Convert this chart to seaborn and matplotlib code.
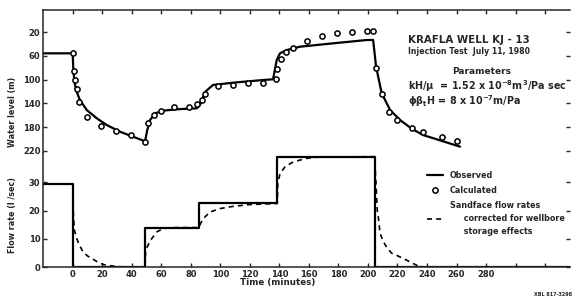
import matplotlib
matplotlib.use("Agg")
import matplotlib.pyplot as plt
import pandas as pd
import seaborn as sns
from matplotlib.lines import Line2D

sns.set_style("ticks")
plt.rcParams['font.family'] = ['DejaVu Sans']
plt.rcParams['font.weight'] = 'bold'
plt.rcParams['mathtext.default'] = 'bf'

# water level, observed (m)
obs_time = [-20, 0, 0.4, 1.1, 2.2, 4.9, 9.5, 16.3, 23, 32, 40.9, 49,
            50.5, 52.4, 55.8, 61.2, 70.5, 84, 86.2, 88.3, 90.3, 95, 108.6,
            128.9, 135.7, 138.2, 140.4, 145, 154, 176.4, 199.2, 203.5,
            205.5, 209.3, 215, 221.7, 229.7, 237.3, 262.4]
obs_level = [55.5, 55.5, 83.7, 100.6, 117.5, 134.4, 151.3, 165.3, 176.6, 187.9, 196.4, 204.1,
             185, 168.1, 156.8, 152.4, 150, 148.4, 142.8, 129.3, 119.2, 109, 105.1,
             100.6, 99.4, 66.8, 55.5, 49.9, 44.3, 38.6, 33, 33,
             78.1, 123, 151.3, 168.1, 183, 193.5, 213.2]

# water level, calculated
calc_time = [0, 0.9, 1.35, 2.7, 4.3, 9.9, 19, 29.1, 39.3, 49, 51.2, 55.1, 59.6,
             68.6, 79, 84, 87.4, 89.6, 98.6, 108.8, 119, 128.7, 137.7, 138.6,
             140.9, 144.5, 149, 158.5, 168.9, 178.9, 189.2, 199.2, 203.7,
             205.5, 209.3, 214.5, 219.9, 229.7, 237.5, 250, 260.2]
calc_level = [55.5, 85.4, 100.6, 116.3, 137.2, 162.6, 178.3, 186.7, 193.5, 204.8, 173.7, 159.7, 152.4,
              146.7, 145.7, 141.1, 134.4, 124.2, 110.7, 108.5, 106.1, 105.1, 98.9, 82,
              64.6, 52.8, 46, 34.2, 25.7, 21.7, 19.5, 17.3, 17.3,
              80.8, 124.2, 154.1, 168.1, 182.2, 187.9, 196.4, 203.1]

# flow rate, observed (l/sec), step changes
step_time = [-20, 0, 49, 85.6, 138.6, 204.5, 337]
step_rate = [29.5, 0, 14, 22.5, 39, 0, 0]

# sandface flow rate corrected for wellbore storage
sand_time = [0, 0.5, 1.2, 2.5, 4, 7, 10, 13, 17, 21, 26, 32, 40, 49,
             49.4, 51, 53.5, 57, 61.5, 70, 85.6,
             86.6, 88.5, 93, 99.8, 108.8, 120, 138.6,
             138.9, 140.4, 143.8, 149.5, 158.5, 167.5, 204.5,
             205.5, 206.3, 207, 208.2, 210, 212.7, 216, 219.5, 226.3, 233, 237.5, 242]
sand_rate = [29.5, 18, 13, 10.5, 8.4, 5.4, 4.0, 3.1, 1.8, 0.95, 0.5, 0.2, 0.05, 0,
             6, 7.8, 10.1, 12.5, 13.7, 14, 14,
             15.5, 17.2, 19.5, 20.7, 21.5, 22.1, 22.5,
             29.5, 33, 35.4, 37.2, 38.4, 38.9, 39,
             29, 20, 17.8, 12, 9.5, 7, 5, 4.2, 2.5, 0.7, 0.1, 0]

level_ticks = [20, 60, 100, 140, 180, 220]
rate_ticks = [0, 10, 20, 30]
time_ticks = list(range(0, 321, 20))
time_labels = [str(t) if t <= 280 else "" for t in time_ticks]

obs = pd.DataFrame({"t": obs_time, "level": obs_level})
calc = pd.DataFrame({"t": calc_time, "level": calc_level})
step = pd.DataFrame({"t": step_time, "q": step_rate})
sand = pd.DataFrame({"t": sand_time, "q": sand_rate})

W, H = 573, 303
fig = plt.figure(figsize=(W / 100, H / 100), dpi=100)
left = 43.2 / W
width = 527 / W
ax1 = fig.add_axes([left, 1 - 153 / H, width, 143 / H])
ax2 = fig.add_axes([left, 1 - 267.3 / H, width, 114.3 / H])

sns.lineplot(data=obs, x="t", y="level", ax=ax1, color="black", lw=1.6,
             sort=False, estimator=None)
sns.scatterplot(data=calc, x="t", y="level", ax=ax1, marker="o", s=14,
                facecolor="white", edgecolor="black", linewidth=1.1, zorder=3)

sns.lineplot(data=step, x="t", y="q", ax=ax2, color="black", lw=1.6,
             sort=False, estimator=None, drawstyle="steps-post")
sns.lineplot(data=sand, x="t", y="q", ax=ax2, color="black", lw=1.2,
             sort=False, estimator=None, linestyle=(0, (3, 2.5)))

for ax in (ax1, ax2):
    ax.set_xlim(-20, 337)
    ax.set_xlabel("")
    ax.set_ylabel("")
    ax.spines["right"].set_visible(False)
    ax.tick_params(direction="in", length=3, width=1, labelsize=6,
                   top=True, right=True, pad=2)
    for s in ax.spines.values():
        s.set_linewidth(1.1)
    ax.set_xticks(time_ticks)

ax1.set_ylim(223.9, -17.7)
ax1.set_yticks(level_ticks)
ax1.spines["bottom"].set_visible(False)
ax1.tick_params(bottom=False, labelbottom=False)

ax2.set_ylim(0, 40.3)
ax2.set_yticks(rate_ticks)
ax2.spines["top"].set_visible(False)
ax2.tick_params(top=False)
ax2.set_xticklabels(time_labels)

for lab in ax1.get_yticklabels() + ax2.get_yticklabels() + ax2.get_xticklabels():
    lab.set_fontweight("bold")

def fx(px):
    return px / W

def fy(py):
    return 1 - py / H

fig.text(fx(13), fy(112), "Water level (m)", rotation=90, ha="center", va="center", fontsize=5.8)
fig.text(fx(13), fy(215), "Flow rate (l /sec)", rotation=90, ha="center", va="center", fontsize=5.8)
fig.text(fx(278), fy(283), "Time (minutes)", ha="center", va="center", fontsize=6.3)

fig.text(fx(408), fy(40), "KRAFLA WELL KJ - 13", ha="left", va="center", fontsize=7.4)
fig.text(fx(408), fy(52), "Injection Test  July 11, 1980", ha="left", va="center", fontsize=5.6)
fig.text(fx(482), fy(72), "Parameters", ha="center", va="center", fontsize=6.5)
fig.text(fx(408), fy(86), r"kH/$\mu$  = 1.52 x 10$^{-8}$m$^{3}$/Pa sec", ha="left", va="center", fontsize=6.9)
fig.text(fx(408), fy(101), r"$\phi\beta_t$H = 8 x 10$^{-7}$m/Pa", ha="left", va="center", fontsize=6.9)

handles = [
    Line2D([], [], color="black", lw=1.6),
    Line2D([], [], color="black", lw=0, marker="o", markersize=3.8,
           markerfacecolor="white", markeredgewidth=1.1),
    Line2D([], [], color="black", lw=1.2, linestyle=(0, (3, 2.5))),
]
labels = ["Observed", "Calculated",
          "Sandface flow rates\n     corrected for wellbore\n     storage effects"]
leg = fig.legend(handles, labels, loc="upper left", bbox_to_anchor=(fx(427), fy(171)),
                 frameon=False, fontsize=5.8, borderpad=0, borderaxespad=0,
                 handlelength=2.0, handletextpad=0.85, labelspacing=0.75)
for txt in leg.get_texts():
    txt.set_linespacing(1.55)

fig.text(fx(553), fy(295), "XBL 817-3298", ha="center", va="center", fontsize=3.5)

fig.savefig("out.png", dpi=100)
